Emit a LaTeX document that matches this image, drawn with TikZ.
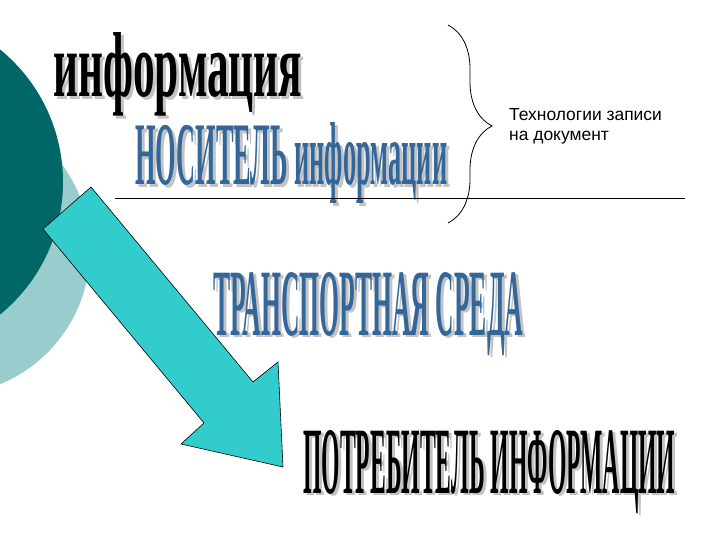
\documentclass[tikz,border=0pt]{standalone}
\usepackage{fontspec}
\usepackage{graphicx}
\newfontfamily\wafont{Liberation Serif}
\newfontfamily\txtfont{Liberation Sans}
\usepackage{tikz}
\usetikzlibrary{decorations.pathreplacing}

\definecolor{darkteal}{RGB}{0,102,102}
\definecolor{lightteal}{RGB}{153,204,204}
\definecolor{arrowcyan}{RGB}{51,204,204}
\definecolor{wablue}{RGB}{51,102,153}
\definecolor{washade}{RGB}{195,195,195}

% text with a grey shadow behind it
\newcommand{\shadowed}[1]{\makebox[0pt][l]{\hspace{3bp}\raisebox{-2.5bp}{\textcolor{washade}{#1}}}#1}

\begin{document}
\begin{tikzpicture}[x=1bp,y=-1bp,
    wa/.style={inner sep=0pt,anchor=base west,font=\wafont\bfseries},
    bigarrow/.style={fill=arrowcyan,draw=black,line width=0.6bp,line join=miter}]
  \useasboundingbox (0,0) rectangle (720,540);
  \clip (0,0) rectangle (720,540);

  % circles at the left edge
  \fill[lightteal] (-55,250) circle (145);
  \fill[darkteal] (-108,182) circle (171);

    \draw (53,97) node[wa] (info) {\shadowed{\resizebox{249bp}{64bp}{информация}}};
    \draw (135,185) node[wa,text=wablue] (carrier) {\shadowed{\resizebox{312bp}{62bp}{НОСИТЕЛЬ информации}}};
    \draw (213,335) node[wa,text=wablue] (medium) {\shadowed{\resizebox{310bp}{63bp}{ТРАНСПОРТНАЯ СРЕДА}}};
    \draw (303,493) node[wa] (user) {\shadowed{\resizebox{372bp}{63bp}{ПОТРЕБИТЕЛЬ ИНФОРМАЦИИ}}};

    \draw (509,108) node[anchor=north west,inner sep=0pt,align=left,
        font=\txtfont\fontsize{17.5}{20.5}\selectfont] (tech) {Технологии записи\\на документ};

  % rule and brace
  \coordinate (lineL) at (115,198);
  \coordinate (lineR) at (685,198);
  \draw[line width=0.8bp] (lineL) -- (lineR);
  \coordinate (bracetop) at (448,25);
  \coordinate (bracebot) at (448,223);
  \draw[line width=0.8bp,decorate,decoration={brace,amplitude=44bp,aspect=0.51}] (bracetop) -- (bracebot);

  % block arrow
  \draw[bigarrow] (91,187) -- (253,382) -- (278,362) -- (283,467)
      -- (181,444) -- (204,423) -- (43,229) -- cycle;
\end{tikzpicture}
\end{document}
